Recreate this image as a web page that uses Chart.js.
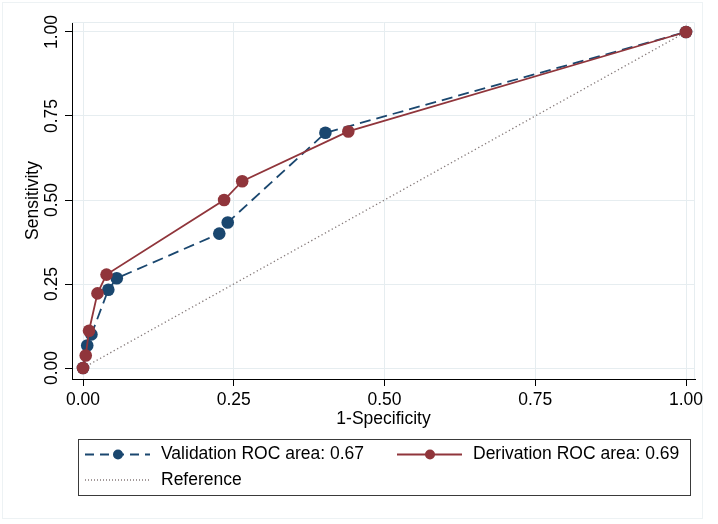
<!DOCTYPE html>
<html><head><meta charset="utf-8">
<script src="https://cdn.jsdelivr.net/npm/chart.js@4/dist/chart.umd.min.js"></script>
<style>html,body{margin:0;padding:0;background:#fff}</style>
</head><body>
<canvas id="c" width="718" height="524"></canvas>
<script>
// ---- data ----
const validationX = [0, 0.007, 0.014, 0.042, 0.056, 0.226, 0.240, 0.402, 1];
const validationY = [0, 0.067, 0.100, 0.233, 0.267, 0.400, 0.433, 0.700, 1];
const derivationX = [0, 0.0045, 0.010, 0.024, 0.039, 0.234, 0.264, 0.440, 1];
const derivationY = [0, 0.037, 0.111, 0.222, 0.278, 0.500, 0.556, 0.704, 1];
const referenceX = [0, 1];
const referenceY = [0, 1];
const xTicks = [0, 0.25, 0.5, 0.75, 1];
const yTicks = [0, 0.25, 0.5, 0.75, 1];
const seriesLabels = ['Validation ROC area: 0.67', 'Derivation ROC area: 0.69', 'Reference'];
const xTitle = '1-Specificity';
const yTitle = 'Sensitivity';

const NAVY = '#1a476f', MAROON = '#90353b', REFC = '#857a7a';
const FONT = '"Liberation Sans", Arial, sans-serif';
const FS = 17.5;
const GRID = '#e6edf0';

const pts = (xs, ys) => xs.map((x, i) => ({x, y: ys[i]}));

const frame = {
  id: 'frame',
  beforeDraw(chart) {
    const ctx = chart.ctx;
    ctx.save();
    ctx.fillStyle = '#fff';
    ctx.fillRect(0, 0, chart.width, chart.height);
    ctx.strokeStyle = '#edf2f4';
    ctx.lineWidth = 1;
    ctx.strokeRect(2.5, 2.5, chart.width - 18, chart.height - 8);
    ctx.restore();
  },
  beforeDatasetsDraw(chart) {
    const ctx = chart.ctx, a = chart.chartArea;
    ctx.save();
    ctx.strokeStyle = GRID;
    ctx.lineWidth = 1;
    ctx.beginPath();
    ctx.moveTo(a.left, a.top + 0.5);
    ctx.lineTo(a.right - 0.5, a.top + 0.5);
    ctx.lineTo(a.right - 0.5, a.bottom);
    ctx.stroke();
    ctx.restore();
  }
};

const boxLegend = {
  id: 'boxLegend',
  afterDraw(chart) {
    const ctx = chart.ctx, a = chart.chartArea, xs = chart.scales.x;
    const left = a.left + 6, right = a.right - 5;
    const top = xs.bottom + 8, bottom = top + 56;
    ctx.save();
    ctx.strokeStyle = '#3a3a3a';
    ctx.lineWidth = 1;
    ctx.strokeRect(Math.round(left) + 0.5, Math.round(top) + 0.5, Math.round(right - left), Math.round(bottom - top));
    const colX = [7, 319];
    const rowY = [15.5, 41];
    const slots = [[0, 0], [1, 0], [0, 1]];
    chart.data.datasets.forEach((ds, i) => {
      const [c, r] = slots[i];
      const sx = left + colX[c], cy = top + rowY[r];
      ctx.save();
      ctx.strokeStyle = ds.borderColor;
      ctx.lineWidth = ds.borderWidth;
      ctx.setLineDash(ds.legendDash || []);
      ctx.beginPath();
      ctx.moveTo(sx, cy);
      ctx.lineTo(sx + 65, cy);
      ctx.stroke();
      ctx.setLineDash([]);
      if (ds.pointRadius > 0) {
        ctx.fillStyle = ds.backgroundColor;
        ctx.beginPath();
        ctx.arc(sx + 33, cy, 5, 0, Math.PI * 2);
        ctx.fill();
      }
      ctx.restore();
      ctx.fillStyle = '#000';
      ctx.font = FS + 'px ' + FONT;
      ctx.textBaseline = 'middle';
      ctx.textAlign = 'left';
      ctx.fillText(ds.label, sx + 76, cy);
    });
    ctx.restore();
  }
};

Chart.defaults.font.family = FONT;
Chart.defaults.font.size = FS;
Chart.defaults.color = '#000';

new Chart(document.getElementById('c'), {
  type: 'scatter',
  data: {
    datasets: [
      {
        label: seriesLabels[0],
        data: pts(validationX, validationY),
        showLine: true,
        borderColor: NAVY,
        backgroundColor: NAVY,
        borderWidth: 1.8,
        borderDash: [11, 6],
        legendDash: [9, 6],
        pointRadius: 6.3,
        pointBorderWidth: 0,
        pointBackgroundColor: NAVY,
        order: 1
      },
      {
        label: seriesLabels[1],
        data: pts(derivationX, derivationY),
        showLine: true,
        borderColor: MAROON,
        backgroundColor: MAROON,
        borderWidth: 1.8,
        pointRadius: 6.3,
        pointBorderWidth: 0,
        pointBackgroundColor: MAROON,
        order: 0
      },
      {
        label: seriesLabels[2],
        data: pts(referenceX, referenceY),
        showLine: true,
        borderColor: REFC,
        backgroundColor: REFC,
        borderWidth: 1.3,
        borderDash: [1.3, 2.6],
        legendDash: [1, 2],
        pointRadius: 0,
        order: 2
      }
    ]
  },
  options: {
    responsive: false,
    animation: false,
    devicePixelRatio: 1,
    layout: { padding: { left: 0, top: 22, right: 23, bottom: 93 } },
    plugins: { legend: { display: false }, tooltip: { enabled: false } },
    elements: { line: { tension: 0, fill: false } },
    scales: {
      x: {
        type: 'linear',
        min: -11 / 603,
        max: 1 + 9 / 603,
        afterBuildTicks: s => { s.ticks = xTicks.map(v => ({value: v})); },
        afterFit: s => { s.height = 52; },
        ticks: { padding: 4, color: '#000', callback: v => Number(v).toFixed(2), font: { size: FS } },
        grid: { color: GRID, lineWidth: 1, drawTicks: true, tickLength: 7, tickColor: '#000', tickWidth: 1 },
        border: { display: true, color: '#000', width: 1 },
        title: { display: true, text: xTitle, color: '#000', font: { size: FS }, padding: { top: 0, bottom: 1 } }
      },
      y: {
        type: 'linear',
        min: -11 / 336,
        max: 1 + 10 / 336,
        afterBuildTicks: s => { s.ticks = yTicks.map(v => ({value: v})); },
        afterFit: s => { s.width = 72; },
        ticks: { padding: -4, color: '#000', minRotation: 90, maxRotation: 90, crossAlign: 'center', callback: v => Number(v).toFixed(2), font: { size: FS } },
        grid: { color: GRID, lineWidth: 1, drawTicks: true, tickLength: 7, tickColor: '#000', tickWidth: 1 },
        border: { display: true, color: '#000', width: 1 },
        title: { display: true, text: yTitle, color: '#000', font: { size: FS }, padding: { top: 23, bottom: 0 } }
      }
    }
  },
  plugins: [frame, boxLegend]
});
</script>
</body></html>
